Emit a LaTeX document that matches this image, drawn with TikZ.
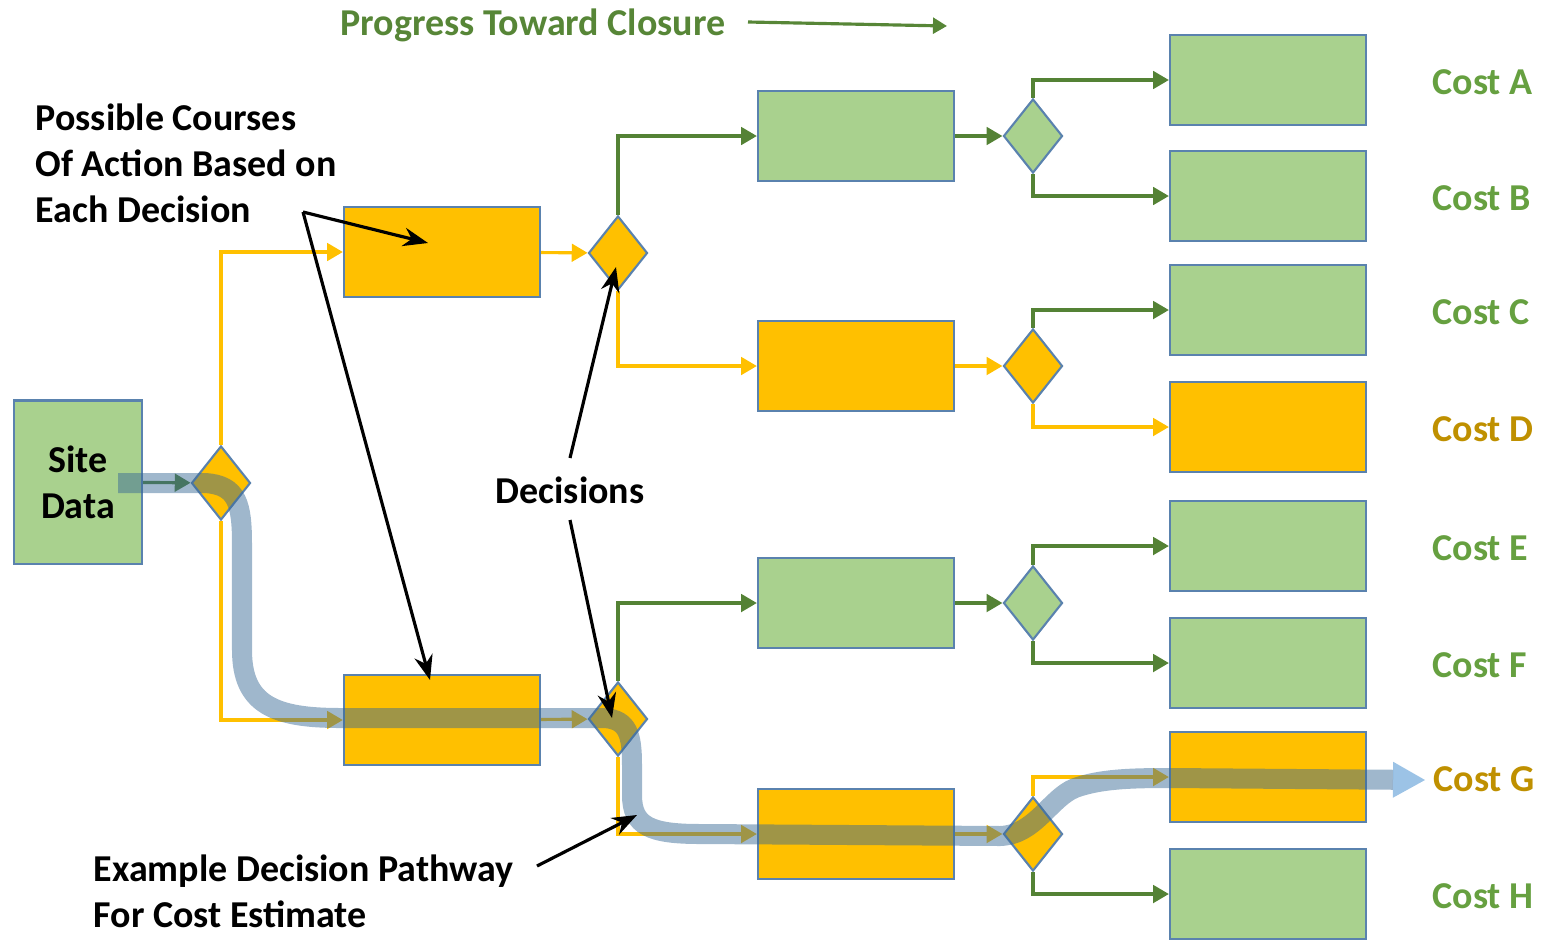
\documentclass[tikz,border=0pt]{standalone}
\usepackage{fontspec}
\setmainfont{Carlito}
\usetikzlibrary{arrows.meta, shapes.geometric, positioning}
\definecolor{boxgreen}{HTML}{A9D18E}
\definecolor{boxgold}{HTML}{FFC000}
\definecolor{rimblue}{HTML}{5A82AE}
\definecolor{flowgreen}{HTML}{548235}
\definecolor{labelgreen}{HTML}{66A040}
\definecolor{labelgold}{HTML}{BF9000}
\definecolor{pathblue}{RGB}{55,104,149}
\definecolor{tipblue}{RGB}{49,129,202}
\tikzset{
    >=Stealth, % black pointer heads
    gbox/.style={rectangle, draw=rimblue, line width=0.6pt, fill=boxgreen, minimum width=1.96cm, minimum height=0.9cm, inner sep=0pt}, % green course box
    obox/.style={gbox, fill=boxgold}, % gold course box
    gdec/.style={diamond, draw=rimblue, line width=0.6pt, fill=boxgreen, minimum width=0.59cm, minimum height=0.74cm, inner sep=0pt}, % decision point
    odec/.style={gdec, fill=boxgold},
    gflow/.style={draw=flowgreen, line width=0.9pt, -{Triangle[length=4.5pt,width=5pt]}}, % green branch
    oflow/.style={gflow, draw=boxgold}, % gold branch
    pointer/.style={->, line width=0.9pt}, % annotation arrows
    cost/.style={anchor=west, inner sep=0pt, text=labelgreen},
    pathway/.style={draw=pathblue, opacity=0.48, line width=0.2cm, -{Triangle[length=0.32cm,width=0.36cm,line width=0pt,color=tipblue]}}
}

\begin{document}
\begin{tikzpicture}[x=0.01cm, y=-0.01cm, every node/.style={font=\bfseries\fontsize{10.8}{13.1}\selectfont}]
    \useasboundingbox (0,0) rectangle (1545,939);

    % boxes and decisions
    \node[gbox, minimum width=1.28cm, minimum height=1.63cm, align=center] (site) at (78,482) {Site\\Data};
    \node[odec] (dec0) at (221,483) {};
    \node[obox] (act1) at (442,252) {};
    \node[obox] (act2) at (442,720) {};
    \node[odec] (dec1) at (618,253) {};
    \node[odec] (dec2) at (618,719) {};
    \node[gbox] (act11) at (856,136) {};
    \node[obox] (act12) at (856,366) {};
    \node[gbox] (act21) at (856,603) {};
    \node[obox] (act22) at (856,834) {};
    \node[gdec] (dec11) at (1033,136) {};
    \node[odec] (dec12) at (1033,366) {};
    \node[gdec] (dec21) at (1033,603) {};
    \node[odec] (dec22) at (1033,834) {};
    \node[gbox] (endA) at (1268,80) {};
    \node[gbox] (endB) at (1268,196) {};
    \node[gbox] (endC) at (1268,310) {};
    \node[obox] (endD) at (1268,427) {};
    \node[gbox] (endE) at (1268,546) {};
    \node[gbox] (endF) at (1268,663) {};
    \node[obox] (endG) at (1268,777) {};
    \node[gbox] (endH) at (1268,894) {};

    \node[cost] (costA) at (1432,82) {Cost A};
    \node[cost] (costB) at (1432,198) {Cost B};
    \node[cost] (costC) at (1432,312) {Cost C};
    \node[cost, text=labelgold] (costD) at (1432,429) {Cost D};
    \node[cost] (costE) at (1432,548) {Cost E};
    \node[cost] (costF) at (1432,665) {Cost F};
    \node[cost, text=labelgold] (costG) at (1433,779) {Cost G};
    \node[cost] (costH) at (1432,896) {Cost H};

    % branches
    \draw[gflow] (site) -- (dec0);
    \draw[oflow] (dec0.north) |- (act1.west);
    \draw[oflow] (dec0.south) |- (act2.west);
    \draw[oflow] (act1) -- (dec1);
    \draw[oflow] (act2) -- (dec2);
    \draw[gflow] (dec1.north) |- (act11.west);
    \draw[oflow] (dec1.south) |- (act12.west);
    \draw[gflow] (dec2.north) |- (act21.west);
    \draw[oflow] (dec2.south) |- (act22.west);
    \draw[gflow] (act11) -- (dec11);
    \draw[oflow] (act12) -- (dec12);
    \draw[gflow] (act21) -- (dec21);
    \draw[oflow] (act22) -- (dec22);
    \draw[gflow] (dec11.north) |- (endA.west);
    \draw[gflow] (dec11.south) |- (endB.west);
    \draw[gflow] (dec12.north) |- (endC.west);
    \draw[oflow] (dec12.south) |- (endD.west);
    \draw[gflow] (dec21.north) |- (endE.west);
    \draw[gflow] (dec21.south) |- (endF.west);
    \draw[oflow] (dec22.north) |- (endG.west);
    \draw[gflow] (dec22.south) |- (endH.west);

    % example pathway
    \coordinate (pstart) at (118,483);
    \coordinate (pend) at (1425,780);
    \draw[pathway] (pstart) -- (205,483) .. controls (238,485) and (242,505) .. (242,545)
        -- (242,650) .. controls (242,705) and (275,718) .. (340,718)
        -- (605,718) .. controls (628,720) and (632,735) .. (632,765)
        -- (632,795) .. controls (632,826) and (650,834) .. (700,834)
        -- (1000,836) .. controls (1035,835) and (1050,798) .. (1075,788)
        .. controls (1100,779) and (1130,778) .. (1170,778) -- (pend);

    % notes
    \node[anchor=west, inner sep=0pt, align=left] (courses) at (35,163) {Possible Courses\\Of Action Based on\\Each Decision};
    \coordinate (cfrom) at (303,212);
    \draw[pointer] (cfrom) -- (428,243);
    \draw[pointer] (cfrom) -- (430,680);

    \node[inner sep=0pt] (decisions) at (570,490) {Decisions};
    \draw[pointer] (570,458) -- (616,267);
    \draw[pointer] (570,520) -- (612,718);

    \node[anchor=west, inner sep=0pt, align=left] (example) at (93,891) {Example Decision Pathway\\For Cost Estimate};
    \draw[pointer] (537,866) -- (637,815);

    \node[inner sep=0pt, text=flowgreen!85!labelgreen] (progress) at (533,25) {Progress Toward Closure};
    \draw[draw=flowgreen!85!labelgreen, line width=0.9pt, -{Triangle[length=4pt,width=4.5pt]}] (748,22) -- (947,26);
\end{tikzpicture}
\end{document}
